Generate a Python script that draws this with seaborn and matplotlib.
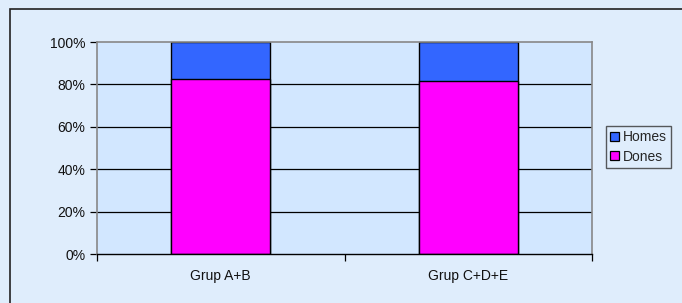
import numpy as np
import pandas as pd
import matplotlib
matplotlib.use('Agg')
import matplotlib.pyplot as plt
import seaborn as sns
from matplotlib.patches import Rectangle, Patch
from matplotlib.ticker import FuncFormatter

# data
groups = ['Grup A+B', 'Grup C+D+E']
dones = [82.4, 81.5]
homes = [17.6, 18.5]
series_names = ['Homes', 'Dones']
colors = {'Homes': '#3366ff', 'Dones': '#ff00ff'}

sns.set_style('white')
plt.rcParams['font.family'] = ['Liberation Sans', 'DejaVu Sans']

fig = plt.figure(figsize=(6.82, 3.03), dpi=100)
fig.patch.set_facecolor('#dfedfc')
ax = fig.add_axes([97 / 682, 1 - 254 / 303, 495 / 682, 212 / 303])
ax.set_facecolor('#d2e7ff')

# outer chart frame (only left/top visible in the reference)
fig.add_artist(Rectangle((10 / 682, -0.1), 1.2, 1 - 9 / 303 + 0.1,
                         transform=fig.transFigure, fill=False,
                         edgecolor='#222222', linewidth=1.2, zorder=0))

df = pd.DataFrame({'group': groups, 'Dones': dones,
                   'total': np.array(dones) + np.array(homes)})

for yv in [20, 40, 60, 80]:
    ax.axhline(yv, color='black', linewidth=0.9, zorder=1)

sns.barplot(data=df, x='group', y='total', color=colors['Homes'], width=0.4,
            edgecolor='black', linewidth=1.0, saturation=1, ax=ax, zorder=2)
sns.barplot(data=df, x='group', y='Dones', color=colors['Dones'], width=0.4,
            edgecolor='black', linewidth=1.0, saturation=1, ax=ax, zorder=3)

ax.set_xlim(-0.5, 1.5)
ax.set_ylim(0, 100)
ax.set_xlabel('')
ax.set_ylabel('')

ax.set_yticks([0, 20, 40, 60, 80, 100])
ax.yaxis.set_major_formatter(FuncFormatter(lambda v, p: f'{v:.0f}%'))
ax.tick_params(axis='y', which='major', left=True, length=5, width=0.9,
               color='black', labelsize=10, pad=3.5, labelcolor='#111111')
ax.set_xticks([0, 1])
ax.set_xticklabels(groups)
ax.set_xticks([-0.5, 0.5, 1.5], minor=True)
ax.tick_params(axis='x', which='major', bottom=False, length=0, labelsize=10,
               pad=10.5, labelcolor='#111111')
ax.tick_params(axis='x', which='minor', bottom=True, length=5, width=0.9,
               color='black')

for side in ['top', 'left', 'right']:
    ax.spines[side].set_color('#888888')
    ax.spines[side].set_linewidth(1.2)
ax.spines['bottom'].set_color('black')
ax.spines['bottom'].set_linewidth(1.0)
ax.spines['bottom'].set_zorder(5)

handles = [Patch(facecolor=colors[n], edgecolor='black', linewidth=0.9, label=n)
           for n in series_names]
leg = fig.legend(handles=handles, loc='upper left',
                 bbox_to_anchor=(606 / 682, 1 - 126 / 303), fontsize=10,
                 frameon=True, fancybox=False, handlelength=0.65,
                 handleheight=0.65, handletextpad=0.25, borderpad=0.3,
                 labelspacing=0.4, borderaxespad=0)
leg.get_frame().set_edgecolor('#333333')
leg.get_frame().set_linewidth(1.0)
leg.get_frame().set_facecolor('#dfedfc')

fig.savefig('out.png', dpi=100, facecolor=fig.get_facecolor())
